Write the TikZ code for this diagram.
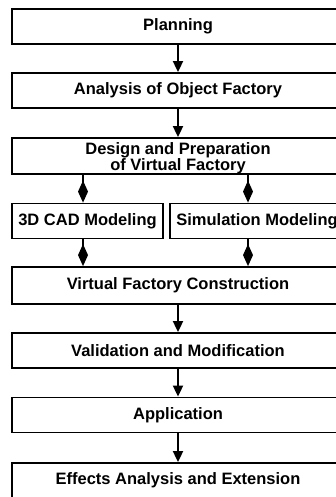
\documentclass[tikz,border=0pt]{standalone}
\usepackage{fontspec}
\setmainfont{Liberation Sans}
\usetikzlibrary{arrows.meta}

\tikzset{
  stage/.style={draw,line width=1.8pt,minimum height=35pt,inner sep=0pt,align=center,
    font=\bfseries\fontsize{16.5}{16}\selectfont},
  flow/.style={line width=1.8pt,-{Triangle[length=11pt,width=10pt]}},
  link/.style={line width=1.8pt,-{Diamond[length=22pt,width=10pt]}}
}

\begin{document}
\begin{tikzpicture}[x=1pt,y=-1pt]
 \useasboundingbox (0,0) rectangle (336,497);
 \clip (0,0) rectangle (336,497);
 % main column
 \node[stage,minimum width=332pt] (plan)   at (178,26.5)  {Planning};
 \node[stage,minimum width=332pt] (anal)   at (178,90.5)  {Analysis of Object Factory};
 \node[stage,minimum width=332pt,minimum height=36pt,text height=29pt,text depth=0pt] (design) at (178,156)
   {Design and Preparation\\of Virtual Factory};
 \node[stage,minimum width=151pt] (cad)    at (87.5,221)  {3D CAD Modeling};
 \node[stage,minimum width=174pt] (sim)    at (257,221)   {Simulation Modeling};
 \node[stage,minimum width=332pt,minimum height=37pt] (vfc) at (178,285.5) {Virtual Factory Construction};
 \node[stage,minimum width=332pt] (valid)  at (178,350.5) {Validation and Modification};
 \node[stage,minimum width=332pt] (appl)   at (178,415)   {Application};
 \node[stage,minimum width=332pt] (effect) at (178,480.5) {Effects Analysis and Extension};

 \foreach \a/\b in {plan/anal, anal/design, vfc/valid, valid/appl, appl/effect}
   \draw[flow] (\a) -- (\b);

 % diamond links
 \coordinate (cadup) at ([xshift=-4.5pt]cad.north);
 \coordinate (caddn) at ([xshift=-4.5pt]cad.south);
 \coordinate (simup) at ([xshift=-9pt]sim.north);
 \coordinate (simdn) at ([xshift=-9pt]sim.south);
 \draw[link] (cadup |- design.south) -- (cadup);
 \draw[link] (simup |- design.south) -- (simup);
 \draw[link] (caddn) -- (caddn |- vfc.north);
 \draw[link] (simdn) -- (simdn |- vfc.north);
\end{tikzpicture}
\end{document}
